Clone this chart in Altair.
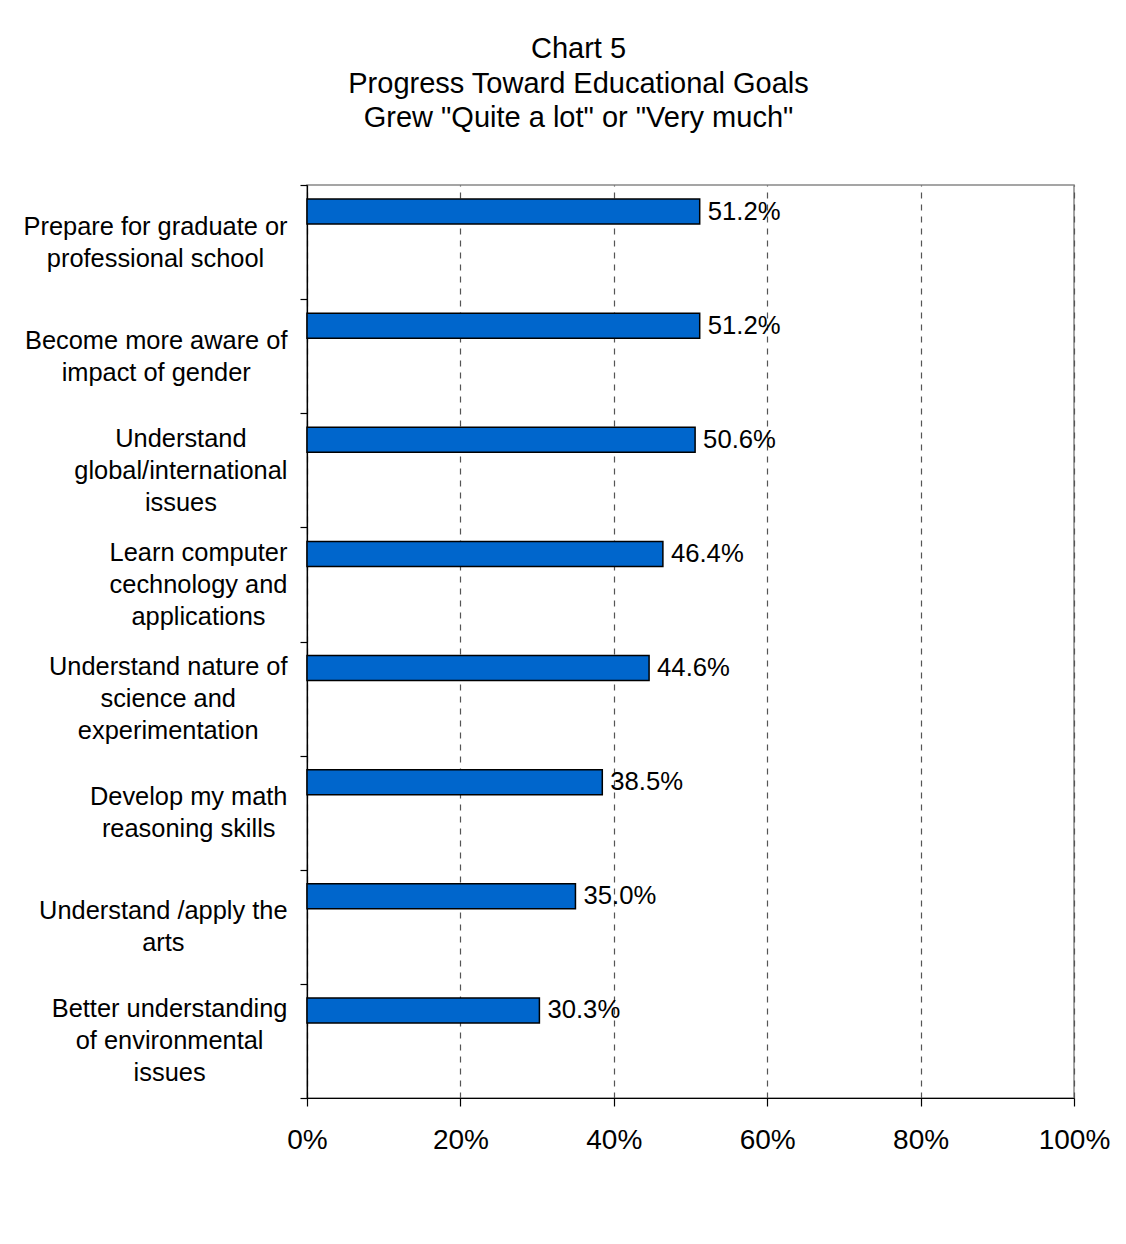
import altair as alt
import pandas as pd

categories = [
    "Prepare for graduate or|professional school",
    "Become more aware of|impact of gender",
    "Understand|global/international|issues",
    "Learn computer|cechnology and|applications",
    "Understand nature of|science and|experimentation",
    "Develop my math|reasoning skills",
    "Understand /apply the|arts",
    "Better understanding|of environmental|issues",
]
values = [51.2, 51.2, 50.6, 46.4, 44.6, 38.5, 35.0, 30.3]
x_ticks = [0, 20, 40, 60, 80, 100]
title_lines = ["Chart 5", "Progress Toward Educational Goals", 'Grew "Quite a lot" or "Very much"']

df = pd.DataFrame({"goal": categories, "pct": values})
df["label"] = [f"{v:.1f}%" for v in values]

FONT = "Liberation Sans"
CAT_FS = 25.4
LINE_H = 32

# Arial / Liberation Sans advance widths (em/1000), used to centre each
# multi-line category label on its own widest line (as the original does).
ADV = {" ": 278, "/": 278, "a": 556, "b": 556, "c": 500, "d": 556, "e": 556,
       "f": 278, "g": 556, "h": 556, "i": 222, "k": 500, "l": 222, "m": 833,
       "n": 556, "o": 556, "p": 556, "r": 333, "s": 500, "t": 278, "u": 556,
       "v": 500, "w": 722, "x": 500, "y": 500, "B": 667, "D": 722, "L": 556,
       "P": 667, "U": 722}


def text_w(s):
    return sum(ADV.get(ch, 556) for ch in s) / 1000.0 * CAT_FS


pad_conds = []
off_conds = []
for c in categories:
    lines = c.split("|")
    w = max(text_w(s) for s in lines)
    pad_conds.append({"test": f"datum.value === '{c}'", "value": round(13 + w / 2, 1)})
    off_conds.append({"test": f"datum.value === '{c}'", "value": -(len(lines) - 1) * LINE_H / 2})

y_enc = alt.Y(
    "goal:N",
    sort=categories,
    title=None,
    scale=alt.Scale(paddingInner=0, paddingOuter=0),
    axis=alt.Axis(
        labelExpr="split(datum.label, '|')",
        labelFont=FONT,
        labelFontSize=CAT_FS,
        labelColor="black",
        labelLineHeight=LINE_H,
        labelAlign="center",
        labelBaseline="middle",
        labelPadding={"condition": pad_conds, "value": 13},
        labelOffset={"condition": off_conds, "value": 0},
        labelLimit=400,
        tickBand="extent",
        tickSize=7,
        tickColor="black",
        tickWidth=1.2,
        domainColor="black",
        domainWidth=1.2,
        grid=False,
    ),
)
x_enc = alt.X(
    "pct:Q",
    title=None,
    scale=alt.Scale(domain=[0, 100], nice=False),
    axis=alt.Axis(
        values=x_ticks,
        labelExpr="datum.value + '%'",
        labelFont=FONT,
        labelFontSize=28,
        labelColor="black",
        labelPadding=20,
        tickSize=8,
        tickColor="black",
        tickWidth=1.2,
        domainColor="black",
        domainWidth=1.2,
        grid=True,
        gridDash=[6, 6],
        gridColor="#555555",
        gridWidth=1.2,
        labelFlush=False,
    ),
)

bars = alt.Chart(df).mark_bar(
    color="#0066CC", stroke="black", strokeWidth=1.5, size=25, yOffset=-30.5
).encode(x=x_enc, y=y_enc)

labels = alt.Chart(df).mark_text(
    align="left", baseline="middle", dx=8, yOffset=-30.5,
    font=FONT, fontSize=25.7, color="black"
).encode(x="pct:Q", y=alt.Y("goal:N", sort=categories), text="label:N")

chart = (
    alt.layer(bars, labels)
    .properties(
        width=767,
        height=913,
        title=alt.TitleParams(
            text=title_lines,
            font=FONT,
            fontSize=29,
            fontWeight="normal",
            color="black",
            lineHeight=34.5,
            anchor="middle",
            dx=-112,
            offset=40,
        ),
        autosize=alt.AutoSizeParams(type="none"),
        padding={"left": 299, "top": 177, "right": 40, "bottom": 110},
        background="white",
    )
    .configure_view(stroke="#888888", strokeWidth=1.5)
)

chart.save("out.html", embed_options={"renderer": "svg", "actions": False})
